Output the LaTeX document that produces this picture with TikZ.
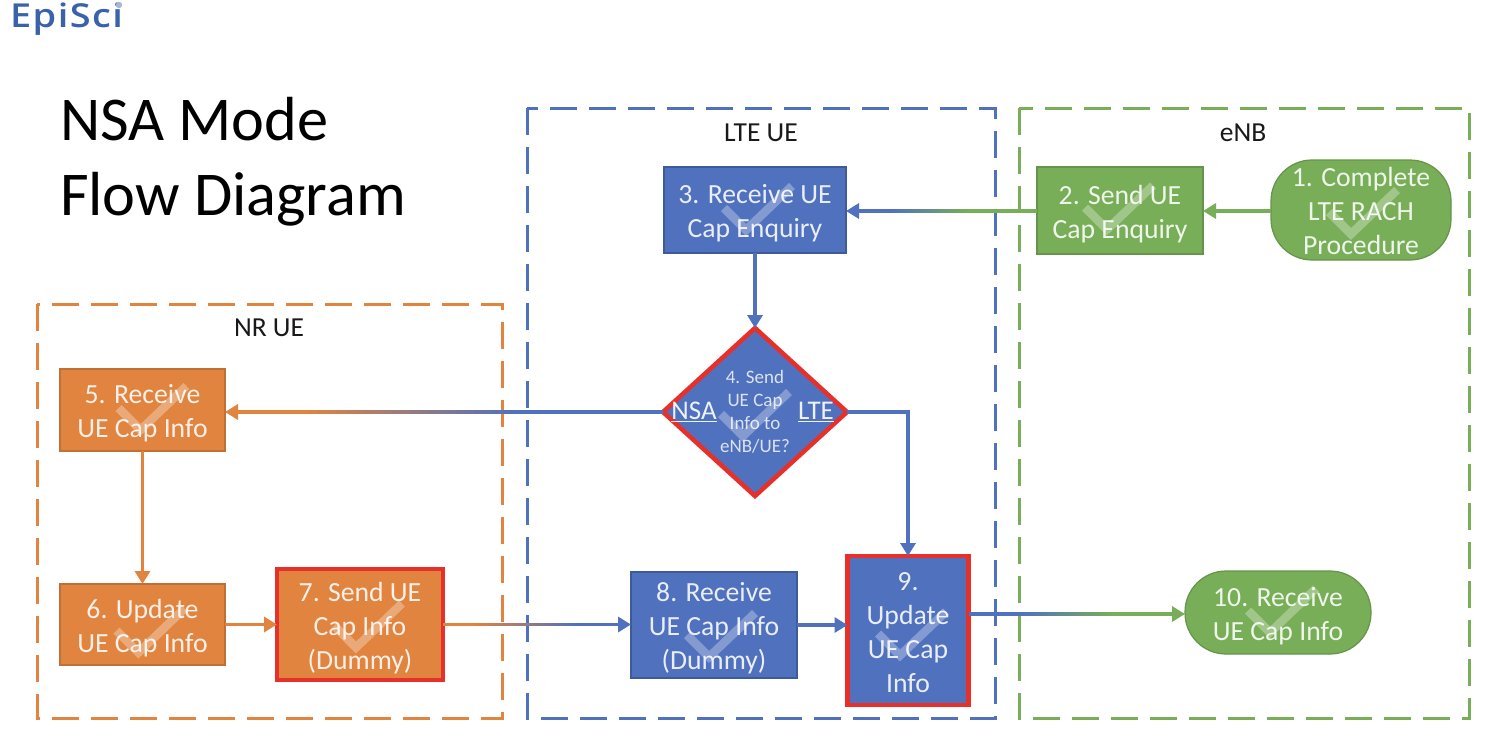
\documentclass[tikz,border=0pt]{standalone}
\usepackage{fontspec}
\setmainfont{Carlito}
\newfontfamily\logofont{Open Sans Semibold}[LetterSpace=4.5,FakeStretch=1.15]
\usetikzlibrary{shapes.geometric,arrows.meta,calc}
\definecolor{cblue}{HTML}{4F71BE}
\definecolor{cgreen}{HTML}{78AE57}
\definecolor{corange}{HTML}{E0843F}
\definecolor{cred}{HTML}{E8302A}
\definecolor{clogo}{HTML}{3A62AC}
\newcommand\hia{\rule{0pt}{30pt}}
\newcommand\loa{\rule[-9pt]{0pt}{9pt}}
% a stretch of connector whose colour runs from #4 at x=#1 to #5 at x=#2, at height #3
\newcommand\gradline[5]{%
  \foreach \gi in {0,...,23}{%
    \pgfmathsetmacro\gp{100-\gi*100/23}%
    \pgfmathsetmacro\ga{#1+(#2-#1)*\gi/24}%
    \pgfmathsetmacro\gb{#1+(#2-#1)*(\gi+1.3)/24}%
    \colorlet{gmix}{#4!\gp!#5}%
    \draw[line width=3.6pt,draw=gmix] (\ga,#3) -- (\gb,#3);
  }}
\tikzset{
  x=1pt,y=-1pt,
  every node/.style={inner sep=0pt,outer sep=0pt},
  chk/.style 2 args={path picture={
    \draw[white,opacity=.3,line width=8.5pt,sharp corners,line join=miter]
      ($(path picture bounding box.center)+(#1-33,#2+0)$) --
      ($(path picture bounding box.center)+(#1-11,#2+22)$) --
      ($(path picture bounding box.center)+(#1+35,#2-22)$);}},
  stepbox/.style={rectangle,align=center,text=white,text opacity=.88,inner ysep=-6pt,
    font=\fontsize{27.7}{34}\selectfont,line width=1.2pt},
  blueb/.style={stepbox,fill=cblue,draw=cblue!80!black},
  greenb/.style={stepbox,fill=cgreen,draw=cgreen!85!black},
  orangeb/.style={stepbox,fill=corange,draw=corange!85!black},
  redb/.style={draw=cred,line width=4.5pt},
  term/.style={rounded corners=41pt},
  frame/.style={line width=3pt,dash pattern=on 27pt off 12pt},
  lab/.style={font=\fontsize{27.5}{30}\selectfont,text=black!90},
  title/.style={anchor=base west,font=\fontsize{62.3}{75}\selectfont,text=black},
  dlab/.style={font=\fontsize{27}{27}\selectfont,text=white,text opacity=.9},
  conn/.style={line width=3.6pt,-{Triangle[length=13pt,width=15pt]}},
}
\begin{document}
\begin{tikzpicture}
\useasboundingbox (0,0) rectangle (1488,740);
\fill[white] (0,0) rectangle (1488,740);
% logo
\node[anchor=base west,text=clogo,font=\logofont\fontsize{33}{33}\selectfont] (logo) at (10,27) {EpiSci};
\fill[clogo!45] (119,5) circle (3.2pt);
% title
\node[title] (t1) at (60,140) {NSA Mode};
\node[title] (t2) at (60,215) {Flow Diagram};
% frames
\draw[frame,draw=corange] (37,304) rectangle (502,718);
\draw[frame,draw=cblue] (527,108) rectangle (995,718);
\draw[frame,draw=cgreen] (1019,108) rectangle (1469,718);
\node[lab] (lnr) at (269,328) {NR UE};
\node[lab] (llte) at (761,133) {LTE UE};
\node[lab] (lenb) at (1243,133) {eNB};
% steps
\node[greenb,term,chk={1}{2},minimum width=180pt,minimum height=100pt] (n1) at (1361,210) {\hia 1. Complete\\LTE RACH\\Procedure\loa};
\node[greenb,chk={-2}{-3},minimum width=166pt,minimum height=87pt] (n2) at (1120,210.5) {\hia 2. Send UE\\Cap Enquiry\loa};
\node[blueb,chk={2}{-2},minimum width=182pt,minimum height=86pt] (n3) at (755,210) {\hia 3. Receive UE\\Cap Enquiry\loa};
\node[diamond,aspect=1.1,fill=cblue,draw=cred,line width=4.5pt,chk={-1}{2},align=center,text=white,text opacity=.8,
  minimum width=184pt,minimum height=168pt,font=\fontsize{19}{23}\selectfont] (n4) at (755,412) {4. Send\\UE Cap\\Info to\\eNB/UE?};
\node[orangeb,chk={9}{-2},minimum width=165pt,minimum height=82pt] (n5) at (142.5,410) {\hia 5. Receive\\UE Cap Info\loa};
\node[orangeb,chk={7}{6},minimum width=165pt,minimum height=81pt] (n6) at (142.5,624.5) {\hia 6. Update\\UE Cap Info\loa};
\node[orangeb,redb,chk={7}{1},minimum width=166pt,minimum height=111pt] (n7) at (360,624.5) {\hia 7. Send UE\\Cap Info\\(Dummy)\loa};
\node[blueb,chk={6}{10},minimum width=166pt,minimum height=106pt] (n8) at (714,625) {\hia 8. Receive\\UE Cap Info\\(Dummy)\loa};
\node[blueb,redb,chk={3}{3},minimum width=121pt,minimum height=149pt] (n9) at (908,630.5) {\hia 9.\\Update\\UE Cap\\Info\loa};
\node[greenb,term,chk={3}{-2},minimum width=186pt,minimum height=83pt] (n10) at (1278,612.5) {\hia 10. Receive\\UE Cap Info\loa};
% diamond labels
\node[dlab] (lnsa) at (694,412) {\underline{NSA}};
\node[dlab] (llt) at (816,412) {\underline{LTE}};
% connectors
\coordinate (a10) at ($(n10.west)+(0,1.5)$);
\draw[conn,draw=cgreen] (n1.west |- 0,211) -- (n2.east |- 0,211);
\draw[conn,draw=cblue] (n2.west |- 0,211) -- (n3.east |- 0,211);
\draw[line width=3.6pt,draw=cgreen] (969,211) -- (n2.west |- 0,211);
\gradline{890}{970}{211}{cblue}{cgreen}
\draw[conn,draw=cblue] (n3) -- (n4);
\draw[conn,draw=corange] (n4.west) -- (n5.east |- n4.west);
\draw[line width=3.6pt,draw=cblue] (519,412) -- (n4.west);
\gradline{300}{520}{412}{corange}{cblue}
\draw[conn,draw=cblue] (n4.east) -| (n9.north);
\draw[conn,draw=corange] (n5) -- (n6);
\draw[conn,draw=corange] (n6) -- (n7);
\draw[conn,draw=cblue] (n7.east) -- (n8.west |- n7.east);
\draw[line width=3.6pt,draw=corange] (n7.east) -- (471,624.5);
\gradline{470}{580}{624.5}{corange}{cblue}
\draw[conn,draw=cblue] (n8) -- (n8 -| n9.west);
\draw[conn,draw=cgreen] (n9.east |- a10) -- (a10);
\draw[line width=3.6pt,draw=cblue] (n9.east |- a10) -- (1021,614);
\gradline{1020}{1115}{614}{cblue}{cgreen}
\end{tikzpicture}
\end{document}
